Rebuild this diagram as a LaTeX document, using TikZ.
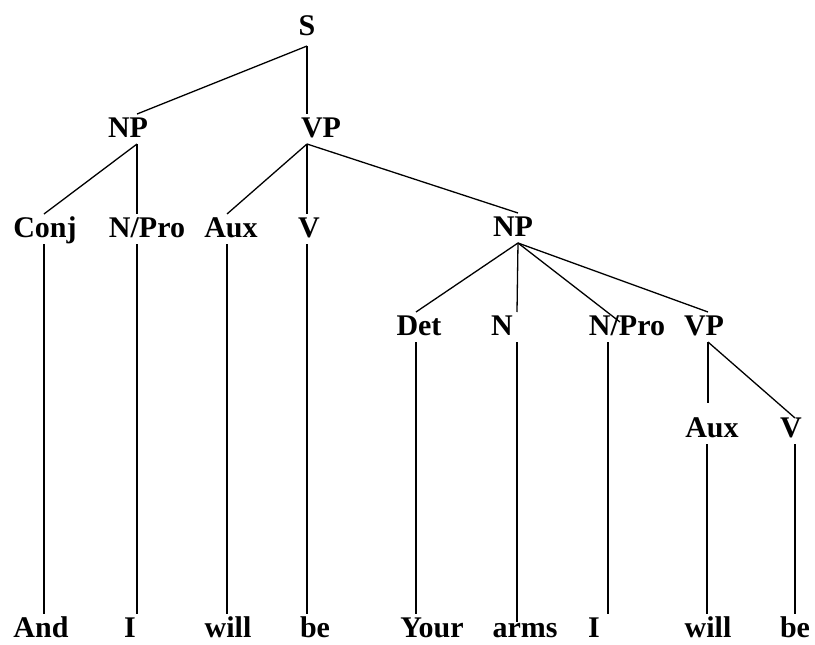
\documentclass[tikz,border=0pt]{standalone}
\usepackage{fontspec}
\setmainfont{Liberation Serif}
\begin{document}
\begin{tikzpicture}[
        x=1pt, y=-1pt,
        cat/.style={font=\fontsize{30}{30}\selectfont\bfseries, anchor=base,
                    inner sep=0pt, outer sep=2pt, text height=21pt, text depth=5pt},
        br/.style={line width=1.3pt, black},
    ]
        \useasboundingbox (0,0) rectangle (815,645);

        % Sentence and phrases
        \node[cat] (s) at (307, 35) {S};
        \node[cat] (np) at (128, 137) {NP};
        \node[cat] (vp) at (321, 137) {VP};

        \node[cat] (conj) at (45, 237) {Conj};
        \node[cat] (npro) at (147, 237) {N/Pro};
        \node[cat] (aux) at (231, 237) {Aux};
        \node[cat] (v) at (309, 237) {V};
        \node[cat] (obj-np) at (513, 236) {NP};

        \node[cat] (obj-det) at (419, 335) {Det};
        \node[cat] (obj-n) at (502, 335) {N};
        \node[cat] (obj-npro) at (627, 335) {N/Pro};
        \node[cat] (obj-vp) at (704, 335) {VP};

        \node[cat] (obj-aux) at (712, 437) {Aux};
        \node[cat] (obj-v) at (791, 437) {V};

        % Words
        \node[cat] (w-and) at (41, 637) {And};
        \node[cat] (w-i) at (130, 637) {I};
        \node[cat] (w-will) at (228, 637) {will};
        \node[cat] (w-be) at (315, 637) {be};
        \node[cat] (w-your) at (432, 637) {Your};
        \node[cat] (w-arms) at (525, 637) {arms};
        \node[cat] (w-i2) at (594, 637) {I};
        \node[cat] (w-will2) at (708, 637) {will};
        \node[cat] (w-be2) at (795, 637) {be};

        % Branches
        \draw[br] ([yshift=-4pt]s.south) -- ([xshift=9pt]np.north);
        \draw[br] ([yshift=-4pt]s.south) -- ([xshift=-14pt]vp.north);

        \draw[br] ([xshift=9pt]np.south) -- ([xshift=-1pt]conj.north);
        \draw[br] ([xshift=9pt]np.south) -- ([xshift=-10pt]npro.north);
        \draw[br] ([xshift=-14pt]vp.south) -- ([xshift=-4pt]aux.north);
        \draw[br] ([xshift=-14pt]vp.south) -- ([xshift=-2pt]v.north);
        \draw[br] ([xshift=-14pt]vp.south) -- ([xshift=5pt]obj-np.north);

        \draw[br] ([xshift=5pt]obj-np.south) -- ([xshift=-3pt]obj-det.north);
        \draw[br] ([xshift=5pt]obj-np.south) -- ([xshift=15pt]obj-n.north);
        \draw[br] ([xshift=5pt]obj-np.south) -- ([xshift=-7pt, yshift=-10pt]obj-npro.north);
        \draw[br] ([xshift=5pt]obj-np.south) -- ([xshift=4pt]obj-vp.north);

        \draw[br] ([xshift=4pt]obj-vp.south) -- ([xshift=-4pt, yshift=11pt]obj-aux.north);
        \draw[br] ([xshift=4pt]obj-vp.south) -- ([xshift=4pt, yshift=-4pt]obj-v.north);

        % Leaves
        \draw[br] ([xshift=-1pt]conj.south) -- ([xshift=3pt]w-and.north);
        \draw[br] ([xshift=-10pt]npro.south) -- ([xshift=7pt]w-i.north);
        \draw[br] ([xshift=-4pt]aux.south) -- ([xshift=-1pt]w-will.north);
        \draw[br] ([xshift=-2pt]v.south) -- ([xshift=-8pt]w-be.north);
        \draw[br] ([xshift=-3pt]obj-det.south) -- ([xshift=-16pt]w-your.north);
        \draw[br] ([xshift=15pt]obj-n.south) -- ([xshift=-8pt, yshift=-8pt]w-arms.north);
        \draw[br] ([xshift=-19pt]obj-npro.south) -- ([xshift=14pt]w-i2.north);
        \draw[br] ([xshift=-5pt]obj-aux.south) -- ([xshift=-1pt]w-will2.north);
        \draw[br] ([xshift=4pt]obj-v.south) -- (w-be2.north);
    \end{tikzpicture}
\end{document}
